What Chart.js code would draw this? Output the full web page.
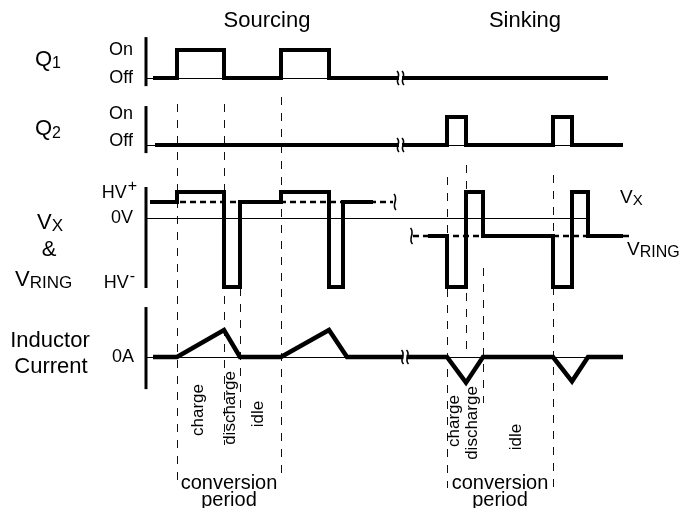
<!DOCTYPE html>
<html>
<head>
<meta charset="utf-8">
<script src="https://cdn.jsdelivr.net/npm/chart.js@4"></script>
<style>
  html, body { margin: 0; padding: 0; background: #fff; }
  #wrap { width: 680px; height: 508px; }
</style>
</head>
<body>
<div id="wrap"><canvas id="timing" width="680" height="508"></canvas></div>
<script>
// time runs left to right in arbitrary units; the gap between sourcing and sinking is a break
const q1Time  = [1.4, 6.2, 6.2, 15.6, 15.6, 27, 27, 36.6, 36.6, 92.4];
const q1State = [0, 0, 1, 1, 0, 0, 1, 1, 0, 0];

const q2Time  = [1.8, 60.2, 60.2, 64.0, 64.0, 81.4, 81.4, 85.2, 85.2, 95.4];
const q2State = [0, 0, 1, 1, 0, 0, 1, 1, 0, 0];

// voltage levels: HV+ 2.6, VRING(sourcing) 1.6, 0V 0, VRING(sinking) -1.8, HV- -6.9
const vxSrcTime  = [0.8, 6.2, 6.2, 15.6, 15.6, 18.8, 18.8, 27, 27, 36.6, 36.6, 39.4, 39.4, 45.4];
const vxSrcLevel = [1.6, 1.6, 2.6, 2.6, -6.9, -6.9, 1.6, 1.6, 2.6, 2.6, -6.9, -6.9, 1.6, 1.6];
const vxSnkTime  = [56.4, 60.2, 60.2, 64.0, 64.0, 67.4, 67.4, 81.4, 81.4, 85.2, 85.2, 88.4, 88.4, 95.4];
const vxSnkLevel = [-1.8, -1.8, -6.9, -6.9, 2.6, 2.6, -1.8, -1.8, -6.9, -6.9, 2.6, 2.6, -1.8, -1.8];
const vringSrcTime  = [0.8, 49.4];
const vringSrcLevel = [1.6, 1.6];
const vringSnkTime  = [53.4, 96.6];
const vringSnkLevel = [-1.8, -1.8];

const iTime  = [1.4, 6.2, 15.6, 18.8, 27, 36.6, 40.2, 60.2, 64.0, 67.4, 81.4, 85.2, 88.4, 95.4];
const iValue = [0, 0, 1, 0, 0, 1, 0, 0, -0.95, 0, 0, -0.9, 0, 0];

const guideTimes = [6.2, 15.6, 18.8, 27, 60.2, 64.0, 67.4, 81.4];
const phaseNames = ['charge', 'discharge', 'idle'];
const titles = ['Sourcing', 'Sinking'];

const FAMILY = '"Liberation Sans", Arial, Helvetica, sans-serif';
const f = s => s + 'px ' + FAMILY;
const pts = (xs, ys) => xs.map((x, i) => ({ x: x, y: ys[i] }));

// chart area is the whole canvas height, so pin two value rows to two pixel rows
const H = 508;
function band(pxA, vA, pxB, vB) {
  const k = (pxB - pxA) / (vA - vB);
  return { min: vB - (H - pxB) / k, max: vA + pxA / k };
}

function trace(label, data, axis, opts) {
  return Object.assign({
    label: label, data: data, yAxisID: axis,
    borderColor: '#000', borderWidth: 4, pointRadius: 0,
    tension: 0, fill: false, borderJoinStyle: 'miter', borderCapStyle: 'butt'
  }, opts || {});
}

function squiggle(ctx, x, y, h) {
  ctx.beginPath();
  ctx.moveTo(x - 1, y - h);
  ctx.bezierCurveTo(x + 4, y - h / 3, x - 4, y + h / 3, x + 1, y + h);
  ctx.stroke();
}

function drawSub(ctx, x, y, main, small, big, little, drop) {
  ctx.textAlign = 'left';
  ctx.font = f(big);
  ctx.fillText(main, x, y);
  const w = ctx.measureText(main).width;
  ctx.font = f(little);
  ctx.fillText(small, x + w, y + drop);
}

function drawSup(ctx, xr, y, main, sup, big, little, rise) {
  ctx.font = f(little);
  const sw = ctx.measureText(sup).width;
  ctx.textAlign = 'left';
  ctx.fillText(sup, xr - sw, y - rise);
  ctx.font = f(big);
  ctx.textAlign = 'right';
  ctx.fillText(main, xr - sw - 1, y);
}

const diagram = {
  id: 'diagram',
  beforeDatasetsDraw(chart) {
    const { ctx, scales } = chart;
    const x = scales.x;
    const x0 = x.getPixelForValue(0);
    ctx.save();
    ctx.strokeStyle = '#000';

    // panel axes
    ctx.lineWidth = 3;
    [['yQ1', -0.29, 1.46], ['yQ2', -0.29, 1.39], ['yV', -7.0, 3.1], ['yI', -1.19, 1.85]].forEach(a => {
      const s = scales[a[0]];
      ctx.beginPath();
      ctx.moveTo(x0, s.getPixelForValue(a[1]));
      ctx.lineTo(x0, s.getPixelForValue(a[2]));
      ctx.stroke();
    });

    // thin zero / off lines
    ctx.lineWidth = 1;
    [['yQ1', 92.4], ['yQ2', 95.4], ['yV', 88.4], ['yI', 95.4]].forEach(b => {
      const py = Math.round(scales[b[0]].getPixelForValue(0)) + 0.5;
      ctx.beginPath();
      ctx.moveTo(x0, py);
      ctx.lineTo(x.getPixelForValue(b[1]), py);
      ctx.stroke();
    });

    // dashed phase guides
    const spans = [[104, 488], [104, 445], [288, 410], [97, 475], [177, 488], [165, 355], [268, 403], [175, 488]];
    ctx.strokeStyle = '#111';
    ctx.setLineDash([8, 8]);
    guideTimes.forEach((t, i) => {
      const px = Math.round(x.getPixelForValue(t)) + 0.5;
      ctx.beginPath();
      ctx.moveTo(px, spans[i][0]);
      ctx.lineTo(px, spans[i][1]);
      ctx.stroke();
    });
    ctx.restore();
  },
  afterDatasetsDraw(chart) {
    const { ctx, scales } = chart;
    const x = scales.x;
    ctx.save();
    ctx.strokeStyle = '#000';
    ctx.lineWidth = 1.6;
    // double break marks on the continuous traces
    [['yQ1', 50.9, 0], ['yQ2', 50.9, 0], ['yI', 51.8, 0]].forEach(b => {
      const px = x.getPixelForValue(b[1]);
      const py = scales[b[0]].getPixelForValue(b[2]);
      ctx.fillStyle = '#fff';
      ctx.fillRect(px - 1.5, py - 3, 3, 6);
      squiggle(ctx, px - 2.5, py, 7);
      squiggle(ctx, px + 2.5, py, 7);
    });
    // single break marks on VRING
    squiggle(ctx, x.getPixelForValue(49.8), scales.yV.getPixelForValue(1.6), 8);
    squiggle(ctx, x.getPixelForValue(53.1), scales.yV.getPixelForValue(-1.8), 8);
    ctx.restore();
  },
  afterDraw(chart) {
    const { ctx, scales } = chart;
    const x = scales.x;
    ctx.save();
    ctx.fillStyle = '#000';

    // section titles
    ctx.font = f(22);
    ctx.textAlign = 'center';
    ctx.textBaseline = 'alphabetic';
    ctx.fillText(titles[0], x.getPixelForValue(24.2), 27);
    ctx.fillText(titles[1], x.getPixelForValue(75.8), 27);

    // signal names on the left
    drawSub(ctx, 35, 66, 'Q', '1', 22, 16, 2);
    drawSub(ctx, 35, 135, 'Q', '2', 22, 16, 3);
    drawSub(ctx, 37, 229, 'V', 'X', 22, 17, 2);
    ctx.font = f(22);
    ctx.textAlign = 'center';
    ctx.fillText('&', 49, 256);
    drawSub(ctx, 15, 286, 'V', 'RING', 22, 17, 2);
    ctx.font = f(22);
    ctx.textAlign = 'center';
    ctx.fillText('Inductor', 50, 347);
    ctx.fillText('Current', 51, 373);

    // level labels
    ctx.font = f(18);
    ctx.textAlign = 'right';
    ctx.textBaseline = 'middle';
    ctx.fillText('On', 133, scales.yQ1.getPixelForValue(1));
    ctx.fillText('Off', 133, scales.yQ1.getPixelForValue(0));
    ctx.fillText('On', 133, scales.yQ2.getPixelForValue(1) - 3);
    ctx.fillText('Off', 133, scales.yQ2.getPixelForValue(0) - 4);
    ctx.fillText('0V', 133, scales.yV.getPixelForValue(0));
    ctx.fillText('0A', 134, scales.yI.getPixelForValue(0));
    drawSup(ctx, 137, scales.yV.getPixelForValue(2.6) + 1, 'HV', '+', 18, 16, 6);
    drawSup(ctx, 135, scales.yV.getPixelForValue(-6.9) - 4, 'HV', '-', 18, 16, 6);

    // right-hand trace names
    ctx.textBaseline = 'alphabetic';
    drawSub(ctx, 620, 203, 'V', 'X', 19, 15, 2);
    drawSub(ctx, 627, 255, 'V', 'RING', 19, 16, 2);

    // phase names, rotated
    ctx.font = f(17);
    ctx.textAlign = 'center';
    ctx.textBaseline = 'middle';
    const phases = [
      [6.2, 15.6, 410, 0], [15.6, 18.8, 408, 1], [18.8, 27, 414, 2],
      [60.2, 64.0, 421, 0], [64.0, 67.4, 423, 1], [67.4, 81.4, 437, 2]
    ];
    phases.forEach(p => {
      const cx = x.getPixelForValue((p[0] + p[1]) / 2) - 2;
      ctx.save();
      ctx.translate(cx, p[2]);
      ctx.rotate(-Math.PI / 2);
      ctx.fillText(phaseNames[p[3]], 0, 0);
      ctx.restore();
    });

    // conversion period captions
    ctx.font = f(20);
    [[6.2, 27], [60.2, 81.4]].forEach(r => {
      const cx = x.getPixelForValue((r[0] + r[1]) / 2);
      ctx.fillText('conversion', cx, 483);
      ctx.fillText('period', cx, 500);
    });
    ctx.restore();
  }
};

new Chart(document.getElementById('timing'), {
  type: 'line',
  data: {
    datasets: [
      trace('Q1', pts(q1Time, q1State), 'yQ1'),
      trace('Q2', pts(q2Time, q2State), 'yQ2'),
      trace('VX sourcing', pts(vxSrcTime, vxSrcLevel), 'yV', { order: 0 }),
      trace('VX sinking', pts(vxSnkTime, vxSnkLevel), 'yV', { order: 0 }),
      trace('VRING sourcing', pts(vringSrcTime, vringSrcLevel), 'yV', { order: 1, borderWidth: 2.5, borderDash: [6, 4] }),
      trace('VRING sinking', pts(vringSnkTime, vringSnkLevel), 'yV', { order: 1, borderWidth: 2.5, borderDash: [6, 4] }),
      trace('Inductor current', pts(iTime, iValue), 'yI', { borderWidth: 4.5 })
    ]
  },
  options: {
    responsive: false,
    animation: false,
    events: [],
    layout: { padding: { left: 146, right: 14, top: 0, bottom: 0 } },
    plugins: { legend: { display: false }, tooltip: { enabled: false } },
    scales: {
      x: { type: 'linear', min: 0, max: 104, display: false },
      yQ1: Object.assign({ type: 'linear', display: false }, band(50, 1, 78, 0)),
      yQ2: Object.assign({ type: 'linear', display: false }, band(117, 1, 145, 0)),
      yV: Object.assign({ type: 'linear', display: false }, band(192, 2.6, 218, 0)),
      yI: Object.assign({ type: 'linear', display: false }, band(330, 1, 357, 0))
    }
  },
  plugins: [diagram]
});
</script>
</body>
</html>
